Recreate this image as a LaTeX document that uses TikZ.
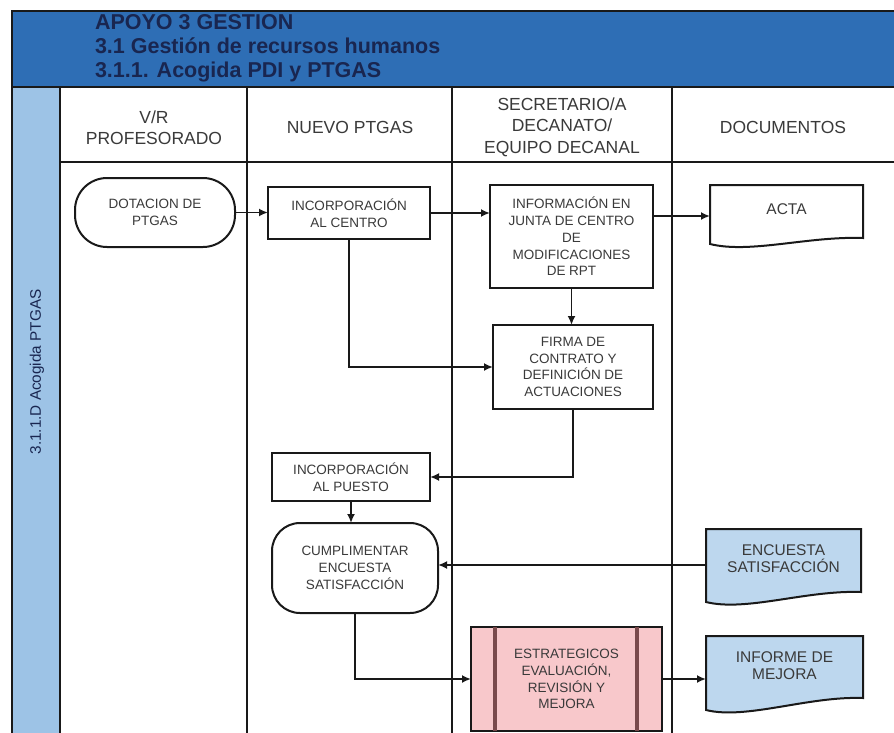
\documentclass[tikz,border=0pt]{standalone}
\usepackage{fontspec}
\setmainfont{Liberation Sans}
\usetikzlibrary{calc,arrows.meta}
\pgfdeclarelayer{bg}
\pgfsetlayers{bg,main}
\definecolor{band}{RGB}{46,110,181}
\definecolor{strip}{RGB}{157,195,230}
\definecolor{navy}{RGB}{25,38,80}
\definecolor{txt}{RGB}{58,58,58}
\definecolor{docblue}{RGB}{189,215,238}
\definecolor{pinkf}{RGB}{248,200,203}
\definecolor{barc}{RGB}{122,74,76}
\definecolor{edge}{RGB}{25,25,25}
\newcommand\docoutline[4]{%
  \draw[draw=edge, line width=2pt, fill=#4] (#1.north west) -- (#1.north east) -- ++(0,#2)
    .. controls +(-55,-2) and +(40,10) .. ($(#1.north west)+(0,#3)$) -- cycle;}
\begin{document}
\begin{tikzpicture}[x=1pt,y=-1pt,
  every node/.style={inner sep=0pt, outer sep=0pt},
  grid/.style={draw=edge, line width=1.8pt},
  box/.style={draw=edge, line width=2pt, fill=white, align=center, text=txt, font=\fontsize{13.5}{16.7}\selectfont},
  term/.style={box, rounded corners=32pt},
  docbox/.style={align=center, text=txt, font=\fontsize{15.5}{17}\selectfont},
  colhead/.style={align=center, text=txt, font=\fontsize{17.5}{21.5}\selectfont},
  titletext/.style={anchor=base west, text=navy, font=\fontsize{21.5}{24}\selectfont\bfseries},
  arr/.style={draw=edge, line width=1.8pt, -{Latex[length=9pt,width=8pt]}},
  barline/.style={draw=barc, line width=4pt}
]
\useasboundingbox (0,0) rectangle (894,733);
\begin{pgfonlayer}{bg}
  \fill[white] (0,0) rectangle (894,733);
  \draw[grid, fill=band] (12,11) rectangle (910,87);
  \draw[grid, fill=strip] (12,87) rectangle (60,745);
  \draw[grid] (60,162) -- (910,162);
  \draw[grid] (247,87) -- (247,745);
  \draw[grid] (452,87) -- (452,745);
  \draw[grid] (672,87) -- (672,745);
\end{pgfonlayer}

% title
\node[titletext] (t1) at (95,30) {APOYO 3 GESTION};
\node[titletext] (t2) at (95,54) {3.1 Gestión de recursos humanos};
\node[titletext] (t3) at (95,78) {3.1.1. Acogida PDI y PTGAS};

% lane label
\node[rotate=90, text=navy, font=\fontsize{15.3}{18}\selectfont] (lane) at (37,372) {3.1.1.D Acogida PTGAS};

% column headers
\node[colhead] (h1) at (154,127.5) {V/R\\PROFESORADO};
\node[colhead] (h2) at (350,127.5) {NUEVO PTGAS};
\node[colhead] (h3) at (562,127) {SECRETARIO/A\\DECANATO/\\EQUIPO DECANAL};
\node[colhead] (h4) at (783,127.5) {DOCUMENTOS};

% process nodes
\node[term, minimum width=160pt, minimum height=69pt] (dot) at (155,212.5) {DOTACION DE\\PTGAS};
\node[box, minimum width=162pt, minimum height=52pt] (incc) at (349,213) {INCORPORACIÓN\\AL CENTRO};
\node[box, minimum width=163pt, minimum height=103pt] (info) at (571.5,236.5) {INFORMACIÓN EN\\JUNTA DE CENTRO\\DE\\MODIFICACIONES\\DE RPT};
\node[box, minimum width=160pt, minimum height=84pt] (firma) at (573,367) {FIRMA DE\\CONTRATO Y\\DEFINICIÓN DE\\ACTUACIONES};
\node[box, minimum width=158pt, minimum height=48pt] (puesto) at (351,477) {INCORPORACIÓN\\AL PUESTO};
\node[term, rounded corners=28pt, minimum width=166pt, minimum height=90pt] (cump) at (355,568) {CUMPLIMENTAR\\ENCUESTA\\SATISFACCIÓN};
\node[box, fill=pinkf, minimum width=191pt, minimum height=104pt] (estr) at (566.5,679) {ESTRATEGICOS\\EVALUACIÓN,\\REVISIÓN Y\\MEJORA};
\draw[barline] ($(estr.north west)+(24,0)$) -- ($(estr.south west)+(24,0)$);
\draw[barline] ($(estr.north east)+(-25,0)$) -- ($(estr.south east)+(-25,0)$);

% documents
\node[minimum width=153pt, minimum height=62pt, label={[docbox,yshift=7pt]center:ACTA}] (acta) at (786.5,216) {};
\node[minimum width=155pt, minimum height=72pt, label={[docbox,yshift=6.5pt]center:ENCUESTA\\SATISFACCIÓN}] (enc) at (783.5,565) {};
\node[minimum width=157pt, minimum height=90pt, label={[docbox,yshift=15.5pt]center:INFORME DE\\MEJORA}] (inf) at (784.5,681) {};
\begin{pgfonlayer}{bg}
  \docoutline{acta}{53}{59}{white}
  \docoutline{enc}{63}{73}{docblue}
  \docoutline{inf}{62}{74}{docblue}
\end{pgfonlayer}

% connectors
\draw[arr] (dot.east) -- (dot.east -| incc.west);
\draw[arr] (incc.east) -- (incc.east -| info.west);
\draw[arr] (info.east |- acta.west) -- (acta.west);
\draw[arr] (info.south) -- (info.south |- firma.north);
\draw[arr] (incc.south) |- (firma.west);
\draw[arr] (firma.south) |- (puesto.east);
\draw[arr] (puesto.south) -- (puesto.south |- cump.north);
\draw[arr] (enc.west) -- (enc.west -| cump.east);
\draw[arr] (cump.south) |- (estr.west);
\draw[arr] (estr.east) -- (estr.east -| inf.west);
\end{tikzpicture}
\end{document}
